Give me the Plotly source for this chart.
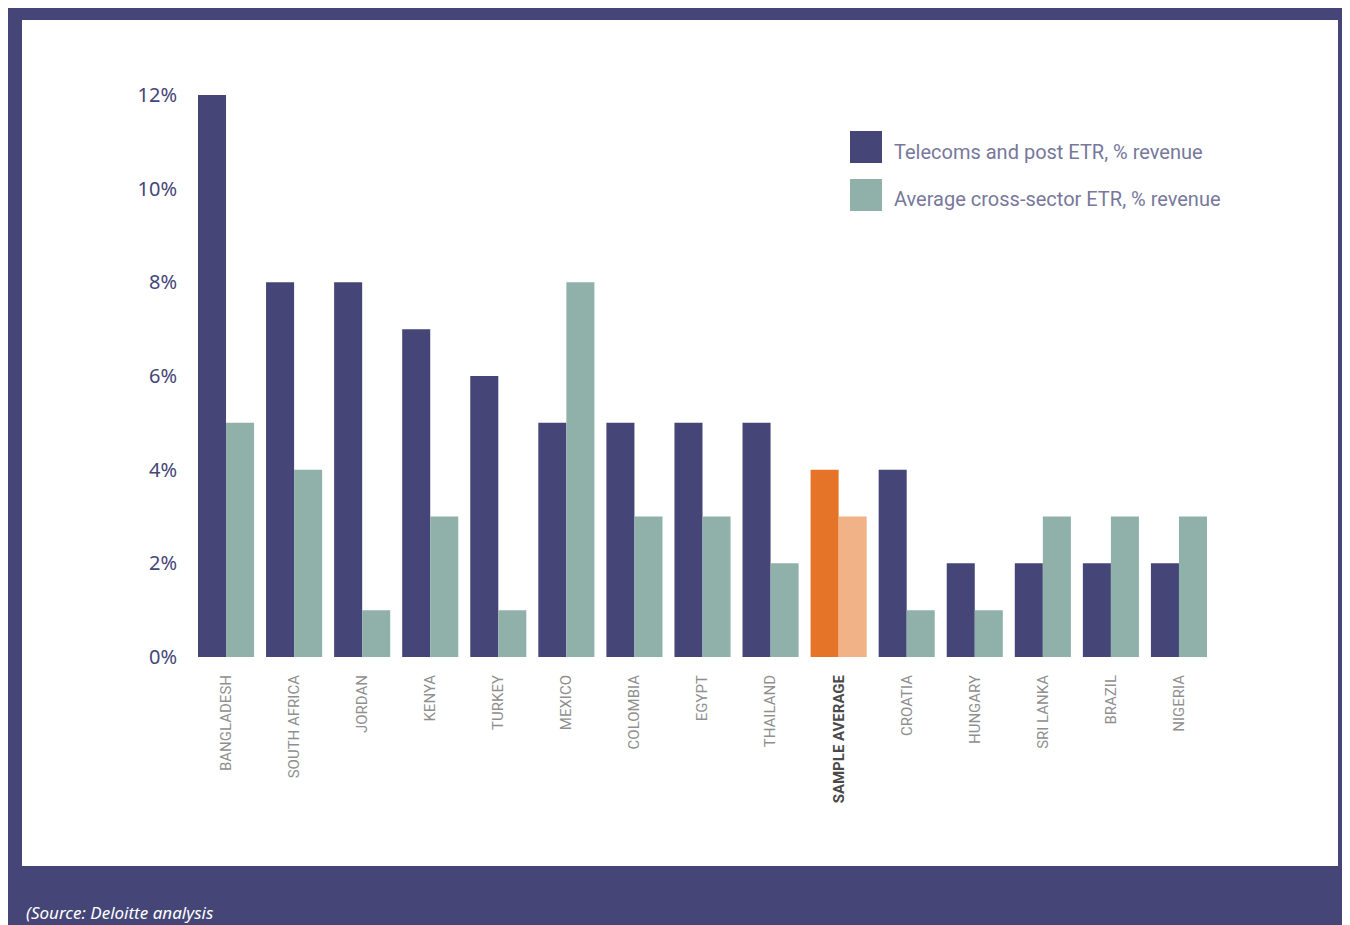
import plotly.graph_objects as go

countries = ["BANGLADESH", "SOUTH AFRICA", "JORDAN", "KENYA", "TURKEY", "MEXICO",
             "COLOMBIA", "EGYPT", "THAILAND", "SAMPLE AVERAGE", "CROATIA", "HUNGARY",
             "SRI LANKA", "BRAZIL", "NIGERIA"]
telecoms = [12, 8, 8, 7, 6, 5, 5, 5, 5, 4, 4, 2, 2, 2, 2]
cross_sector = [5, 4, 1, 3, 1, 8, 3, 3, 2, 3, 1, 1, 3, 3, 3]
y_ticks = [0, 2, 4, 6, 8, 10, 12]
y_ticktext = ["0%", "2%", "4%", "6%", "8%", "10%", "12%"]
series_names = ["Telecoms and post ETR, % revenue", "Average cross-sector ETR, % revenue"]
highlight = "SAMPLE AVERAGE"

PURPLE = "#454677"
TEAL = "#8fb1aa"
ORANGE = "#e57428"
LORANGE = "#f2b287"

# page body has an 8px margin
OFF = 8
W, H = 1350 - 2 * OFF, 925 - OFF
ML, MR = 184, W - (1213 - OFF)
MT = 52
MB = H - (657 - OFF)
PW, PH = W - ML - MR, H - MT - MB


def px(x):  # x in page pixels
    return (x - OFF - ML) / PW


def py(y):  # y in page pixels
    return (H - MB - (y - OFF)) / PH


c1 = [ORANGE if c == highlight else PURPLE for c in countries]
c2 = [LORANGE if c == highlight else TEAL for c in countries]

fig = go.Figure()
fig.add_trace(go.Bar(x=countries, y=telecoms, name=series_names[0], marker=dict(color=c1, line=dict(width=0))))
fig.add_trace(go.Bar(x=countries, y=cross_sector, name=series_names[1], marker=dict(color=c2, line=dict(width=0))))

ticktext = [("<b><span style='color:#4a4a4a'>%s</span></b>" % c) if c == highlight else c for c in countries]

shapes = [
    dict(type="rect", xref="paper", yref="paper", x0=px(7), x1=px(1360), y0=py(940), y1=py(6),
         fillcolor=PURPLE, line=dict(width=0), layer="below"),
    dict(type="rect", xref="paper", yref="paper", x0=px(22), x1=px(1338), y0=py(866), y1=py(20),
         fillcolor="white", line=dict(width=0), layer="below"),
    dict(type="rect", xref="paper", yref="paper", x0=px(850), x1=px(882), y0=py(163), y1=py(131),
         fillcolor=PURPLE, line=dict(width=0)),
    dict(type="rect", xref="paper", yref="paper", x0=px(850), x1=px(882), y0=py(211), y1=py(179),
         fillcolor=TEAL, line=dict(width=0)),
]

CONDENSED = "Roboto, sans-serif"
annotations = [
    dict(xref="paper", yref="paper", x=px(892), y=py(152), text=series_names[0], showarrow=False,
         xanchor="left", yanchor="middle", font=dict(family=CONDENSED, size=20, color="#77789c")),
    dict(xref="paper", yref="paper", x=px(892), y=py(199), text=series_names[1], showarrow=False,
         xanchor="left", yanchor="middle", font=dict(family=CONDENSED, size=20, color="#77789c")),
    dict(xref="paper", yref="paper", x=px(24), y=py(912), text="<i>(Source: Deloitte analysis</i>",
         showarrow=False, xanchor="left", yanchor="middle",
         font=dict(family="Noto Sans, sans-serif", size=17, color="white")),
]

y_px_per_unit = (657 - 95) / 12
fig.update_layout(
    width=W, height=H,
    margin=dict(l=ML, r=MR, t=MT, b=MB, autoexpand=False),
    paper_bgcolor="white",
    plot_bgcolor="rgba(0,0,0,0)",
    barmode="group",
    bargap=0.176,
    bargroupgap=0,
    showlegend=False,
    shapes=shapes,
    annotations=annotations,
    xaxis=dict(
        tickmode="array", tickvals=countries, ticktext=ticktext, tickangle=-90,
        showgrid=False, showline=False, zeroline=False, ticks="",
        ticklabelstandoff=14,
        tickfont=dict(family=CONDENSED, size=15, color="#8f8f8f"),
    ),
    yaxis=dict(
        range=[0, 12 + (95 - OFF - MT) / y_px_per_unit],
        tickmode="array", tickvals=y_ticks, ticktext=y_ticktext,
        showgrid=False, showline=False, zeroline=False, ticks="",
        ticklabelstandoff=14,
        tickfont=dict(family="Noto Sans, sans-serif", size=20, color=PURPLE),
    ),
)

fig.write_html("out.html")
